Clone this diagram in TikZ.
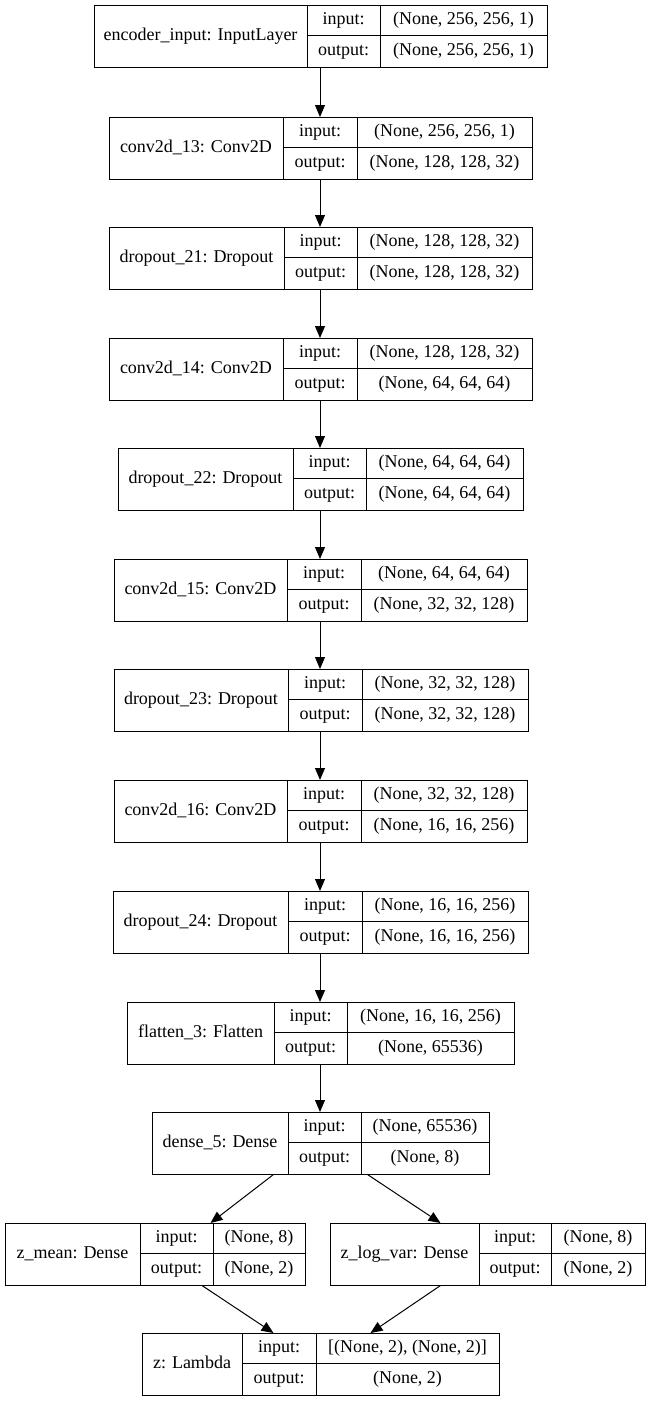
\documentclass[tikz,border=0pt]{standalone}
\usepackage{fontspec}
\setmainfont{Liberation Serif}
\usetikzlibrary{arrows.meta}
\tikzset{
  layerbox/.style={draw=black, line width=1pt, minimum height=61.5pt, inner sep=0pt, fill=white},
  cell/.style={draw=black, line width=1pt},
  txt/.style={inner sep=0pt, text height=13pt, text depth=4pt, font=\fontsize{18}{22}\selectfont},
  arr/.style={draw=black, line width=1pt, -{Triangle[length=12pt,width=10pt]}}
}
% #1 name, #2 left, #3 divider 1, #4 divider 2, #5 right, #6 top, #7 title, #8 input, #9 output
\newcommand\lay[9]{%
  \node[layerbox, minimum width={(#5-#2)*1pt}, anchor=north west] (#1) at (#2,#6) {};
  \draw[cell] (#3,#6) -- (#3,{#6+61.5});
  \draw[cell] (#4,#6) -- (#4,{#6+61.5});
  \draw[cell] (#3,{#6+30.75}) -- (#5,{#6+30.75});
  \node[txt] (#1-t) at ({(#2+#3)/2},{#6+30.75}) {#7};
  \node[txt] (#1-il) at ({(#3+#4)/2},{#6+15.4}) {input:};
  \node[txt] (#1-ol) at ({(#3+#4)/2},{#6+46.1}) {output:};
  \node[txt] (#1-iv) at ({(#4+#5)/2},{#6+15.4}) {#8};
  \node[txt] (#1-ov) at ({(#4+#5)/2},{#6+46.1}) {#9};
}
\begin{document}
\begin{tikzpicture}[x=1pt,y=-1pt]
\useasboundingbox[fill=white] (0,0) rectangle (650,1401);
\coordinate (axis) at (320,0);
\lay{l1}{94}{307}{380}{547}{5}{encoder\_input: InputLayer}{(None, 256, 256, 1)}{(None, 256, 256, 1)}
\lay{l2}{109}{283}{357}{532}{117}{conv2d\_13: Conv2D}{(None, 256, 256, 1)}{(None, 128, 128, 32)}
\lay{l3}{109}{284}{357}{532}{227}{dropout\_21: Dropout}{(None, 128, 128, 32)}{(None, 128, 128, 32)}
\lay{l4}{109}{283}{357}{532}{338}{conv2d\_14: Conv2D}{(None, 128, 128, 32)}{(None, 64, 64, 64)}
\lay{l5}{118}{293}{366}{523}{448}{dropout\_22: Dropout}{(None, 64, 64, 64)}{(None, 64, 64, 64)}
\lay{l6}{114}{287}{361}{527}{559}{conv2d\_15: Conv2D}{(None, 64, 64, 64)}{(None, 32, 32, 128)}
\lay{l7}{114}{288}{362}{528}{669}{dropout\_23: Dropout}{(None, 32, 32, 128)}{(None, 32, 32, 128)}
\lay{l8}{114}{287}{361}{527}{780}{conv2d\_16: Conv2D}{(None, 32, 32, 128)}{(None, 16, 16, 256)}
\lay{l9}{113}{288}{362}{528}{891}{dropout\_24: Dropout}{(None, 16, 16, 256)}{(None, 16, 16, 256)}
\lay{l10}{127}{274}{347}{514}{1002}{flatten\_3: Flatten}{(None, 16, 16, 256)}{(None, 65536)}
\lay{l11}{152}{288}{361}{489}{1112}{dense\_5: Dense}{(None, 65536)}{(None, 8)}
\lay{l12}{5}{140}{213}{305}{1223}{z\_mean: Dense}{(None, 8)}{(None, 2)}
\lay{l13}{330}{479}{551}{645}{1223}{z\_log\_var: Dense}{(None, 8)}{(None, 2)}
\lay{l14}{142}{242}{316}{499}{1333}{z: Lambda}{[(None, 2), (None, 2)]}{(None, 2)}
\foreach \a/\b in {l1/l2,l2/l3,l3/l4,l4/l5,l5/l6,l6/l7,l7/l8,l8/l9,l9/l10,l10/l11}
  \draw[arr] (\a.south -| axis) -- (\b.north -| axis);
\draw[arr] ([xshift=-47.5pt]l11.south) -- ([xshift=55pt]l12.north);
\draw[arr] ([xshift=46.5pt]l11.south) -- ([xshift=-47.5pt]l13.north);
\draw[arr] ([xshift=46.5pt]l12.south) -- ([xshift=-47.5pt]l14.north);
\draw[arr] ([xshift=-47.5pt]l13.south) -- ([xshift=49.5pt]l14.north);
\end{tikzpicture}
\end{document}
